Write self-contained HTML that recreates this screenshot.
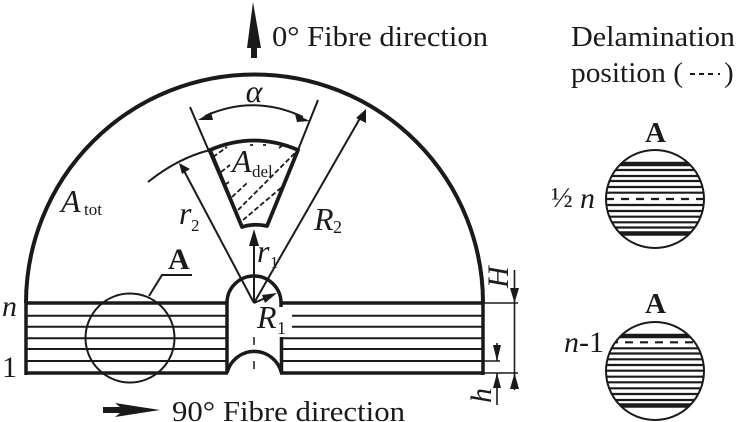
<!DOCTYPE html>
<html><head><meta charset="utf-8"><style>
html,body{margin:0;padding:0;background:#fff}
svg{display:block}
text{font-family:"Liberation Serif",serif;fill:#1a1a1a}
.i{font-style:italic}
</style></head><body>
<svg width="736" height="422" viewBox="0 0 736 422" xmlns="http://www.w3.org/2000/svg">
<defs>
<clipPath id="c1"><circle cx="655" cy="199" r="49"/></clipPath>
<clipPath id="c2"><circle cx="655" cy="371" r="49"/></clipPath>
</defs>
<g fill="none" stroke="#1a1a1a" stroke-linecap="butt">
<!-- outer -->
<path d="M26 303A228.500 228.500 0 0 1 483 303" stroke-width="4"/>
<path d="M26 301V375M483 301V375" stroke-width="3.500"/>
<path d="M26 303H227M282 303H483" stroke-width="3.500"/>
<path d="M25 373H228M280 373H484" stroke-width="3.500"/>
<!-- layers -->
<g stroke-width="2">
<path d="M27 315.700H226M27 326.700H226M27 338.300H226M27 349H226M27 361H226"/>
<path d="M292 315.700H482M292 326.700H482M282 338.300H482M282 349H482M282 361H482"/>
</g>
<!-- hole -->
<path d="M227 373V303A27 27 0 0 1 281 303V307" stroke-width="3.500"/>
<path d="M281.500 337V373" stroke-width="3.500"/>
<path d="M227 373A28 28 0 0 1 281.500 373" stroke-width="3.500"/>
<path d="M254 337V345M254 350V352M254 361V369" stroke-width="1.500"/>
<!-- circle A -->
<circle cx="130" cy="338" r="44.500" stroke-width="2"/>
<path d="M149 296L162 275H192" stroke-width="2"/>
<!-- radials -->
<g stroke-width="2">
<path d="M190 107L241 226"/>
<path d="M318 100L298 150"/>
<path d="M148 182Q178 158 210 150"/>
<path d="M254 303L182 167"/>
<path d="M254 303L363 113"/>
<path d="M254 303V236"/>
<path d="M254 303L270 296"/>
<path d="M205 116Q254 94 303 117"/>
</g>
<!-- sector -->
<path d="M210 150Q254 131 298 150L267 226Q254 223 242 227Z" stroke-width="3.800" stroke-linejoin="round"/>
<!-- hatch -->
<g stroke-width="1.800" stroke-dasharray="5 2.500">
<path d="M213 157L227 147"/>
<path d="M221 172L230 165"/>
<path d="M226 184L229 182"/>
<path d="M232 197L247 183"/>
<path d="M238 210L295 153"/>
<path d="M243 220L282 187"/>
<path d="M250 145H253M263 145H266M283 145L279 148"/>
</g>
<!-- dims -->
<g stroke-width="1.600">
<path d="M483 303H518M483 373H518M483 361H500"/>
<path d="M514.500 270V390"/>
<path d="M497 343V361M497 373V405"/>
</g>
</g>
<g fill="#1a1a1a" stroke="none">
<!-- arrowheads -->
<path d="M179 163L190 169L182 174Z"/>
<path d="M366 109L366 123L356 118Z"/>
<path d="M254 229L259 246H249Z"/>
<path d="M277 293L265 303L262 295Z"/>
<path d="M198 120L211 112L213 120Z"/>
<path d="M310 121L295 114L297 122Z"/>
<path d="M514.500 303L510 288H519Z"/>
<path d="M514.500 373L510 389H519Z"/>
<path d="M497 361L493 345H501Z"/>
<path d="M497 373L493 388H501Z"/>
<!-- big arrows -->
<path d="M253 2L261 48H257V58H251V48H247Z"/>
<path d="M160 410L115 403L120 407H103V413H120L115 417Z"/>
</g>
<!-- detail circles -->
<g clip-path="url(#c1)" stroke="#1a1a1a" fill="none">
<path d="M600 164H710" stroke-width="4.500"/>
<path d="M600 170H710M600 176H710M600 181H710M600 187H710M600 192.700H710M600 205H710M600 211H710M600 216.700H710M600 222.300H710M600 227.500H710" stroke-width="2.200"/>
<path d="M600 233.500H710" stroke-width="4.500"/>
<path d="M606 199H710" stroke-width="2.200" stroke-dasharray="8 7"/>
</g>
<circle cx="655" cy="199" r="49" fill="none" stroke="#1a1a1a" stroke-width="2"/>
<g clip-path="url(#c2)" stroke="#1a1a1a" fill="none">
<path d="M600 336H710" stroke-width="4.500"/>
<path d="M600 348.300H710M600 353.500H710M600 359.300H710M600 365H710M600 370.700H710M600 376.700H710M600 382.300H710M600 388.300H710M600 394H710M600 400H710" stroke-width="2.200"/>
<path d="M600 405.500H710" stroke-width="4.500"/>
<path d="M610 342.300H710" stroke-width="2.200" stroke-dasharray="8 7"/>
</g>
<circle cx="655" cy="371" r="49" fill="none" stroke="#1a1a1a" stroke-width="2"/>
<!-- text -->
<text x="272" y="46" font-size="29" textLength="216" lengthAdjust="spacingAndGlyphs">0° Fibre direction</text>
<text x="172" y="421" font-size="29" textLength="233" lengthAdjust="spacingAndGlyphs">90° Fibre direction</text>
<text x="571" y="46" font-size="29" textLength="164" lengthAdjust="spacingAndGlyphs">Delamination</text>
<text x="571" y="82" font-size="29" textLength="112" lengthAdjust="spacingAndGlyphs">position (</text>
<text x="724" y="82" font-size="29">)</text>
<g fill="#1a1a1a"><rect x="690" y="73" width="5" height="2"/><rect x="699" y="73" width="5" height="2"/><rect x="708" y="73" width="5" height="2"/><rect x="718" y="73" width="2" height="2"/></g>
<text class="i" x="254" y="102" font-size="32" text-anchor="middle">α</text>
<text class="i" x="232" y="172" font-size="32">A</text><text x="252" y="177" font-size="17">del</text>
<text class="i" x="61" y="212" font-size="32">A</text><text x="84" y="215" font-size="17">tot</text>
<text class="i" x="179" y="224" font-size="32">r</text><text x="191" y="231" font-size="17">2</text>
<text class="i" x="314" y="230" font-size="32">R</text><text x="333" y="233" font-size="18">2</text>
<text class="i" x="257" y="262" font-size="32">r</text><text x="270" y="268" font-size="17">1</text>
<text class="i" x="257" y="328" font-size="32">R</text><text x="277" y="334" font-size="18">1</text>
<text x="168" y="269" font-size="30" font-weight="bold">A</text>
<text x="645" y="142" font-size="29" font-weight="bold">A</text>
<text x="645" y="313" font-size="29" font-weight="bold">A</text>
<text class="i" x="2" y="316" font-size="30">n</text>
<text x="2" y="377" font-size="30">1</text>
<text x="551" y="207" font-size="29">½</text><text class="i" x="580" y="208" font-size="30">n</text>
<text class="i" x="564" y="352" font-size="30">n</text><text x="579" y="352" font-size="30">-1</text>
<text class="i" transform="translate(508 288) rotate(-90)" font-size="30" x="0" y="0">H</text>
<text class="i" transform="translate(491 403) rotate(-90)" font-size="30" x="0" y="0">h</text>
</svg>
</body></html>
